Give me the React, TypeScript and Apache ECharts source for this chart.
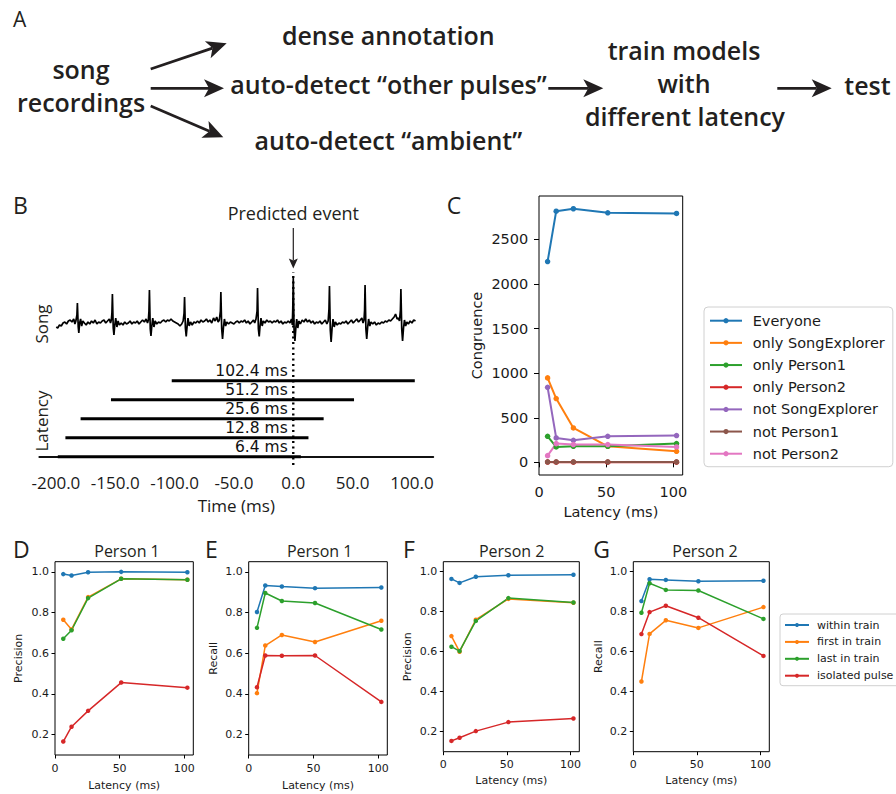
import React, { useEffect, useRef } from "react";
import * as echarts from "echarts";

// ---------------- data ----------------
const latencies = [6.4, 12.8, 25.6, 51.2, 102.4];
const windowMs = 204.8;
const timeTicks = [-200, -150, -100, -50, 0, 50, 100];

// song trace: [time (ms), amplitude (arbitrary units)]
const songTrace: [number, number][] = [
  [-199.7, -4], [-198.5, -5], [-197, -2], [-195.5, -3], [-194, 0], [-192.5, 1], [-191, -1], [-189.5, 2], [-188, 3], [-186.5, 1], [-185, 4], [-184, -1], [-183.2, 2],
  [-182.3, 8], [-181.9, 20], [-181.2, -4], [-180.7, -10], [-180, 0], [-179.2, 4], [-178.3, -3], [-177.3, 2],
  [-176, 0], [-174.5, -2], [-173, 1], [-171.5, -1], [-170, 2], [-168.5, 0], [-167, 3], [-165.5, -1], [-164, 1], [-162.5, 0], [-161, 2], [-159.5, 3], [-158, 0], [-156.5, 2], [-155, 4], [-154, 0], [-153.3, 3],
  [-152.8, 10], [-152.4, 29], [-151.7, -5], [-151.1, -12], [-150.4, -2], [-149.6, 5], [-148.6, -4], [-147.6, 2], [-146.5, -2], [-145, 0], [-143.5, -2], [-142, 1], [-140.5, -1], [-139, 0], [-137.5, 2], [-136, -1], [-134.5, 1], [-133, 0], [-131.5, 2], [-130, -1], [-128.5, 1], [-127, 3], [-125.5, 1], [-124, 4], [-122.8, 0], [-122.1, 3],
  [-121.6, 12], [-121.2, 33], [-120.5, -6], [-119.9, -13], [-119.2, -3], [-118.4, 5], [-117.4, -4], [-116.4, 2], [-115, -1], [-113.5, 1], [-112, 0], [-110.5, 2], [-109, 3], [-107.5, 1], [-106, 3], [-104.5, 2], [-103, 4], [-101.5, 2], [-100, 1], [-98.5, 0], [-97, -1], [-95.5, -3], [-94, -1], [-92.8, 2],
  [-92, 10], [-91.6, 26], [-90.9, -5], [-90.2, -13.5], [-89.5, -4], [-88.7, 5], [-87.7, -3], [-86.6, 1], [-85.2, -2], [-83.7, 1], [-82.2, 0], [-80.7, 2], [-79.2, 0], [-77.7, 3], [-76.2, 1], [-74.7, 2], [-73.2, 4], [-71.7, 1], [-70.2, 3], [-68.7, 0], [-67.2, 5], [-65.8, 2], [-64.5, 6], [-63.3, 1], [-62.3, 3],
  [-61.4, 12], [-61, 31], [-60.3, -6], [-59.6, -16], [-58.8, -4], [-58, 4], [-57, -3], [-56, 1], [-54.5, -1], [-53, 1], [-51.5, 0], [-50, -1], [-48.5, 1], [-47, 2], [-45.5, 0], [-44, 2], [-42.5, 1], [-41, 3], [-39.5, 0], [-38, 2], [-36.5, -1], [-35, 1], [-33.5, 3], [-32.5, 0], [-31.4, 4],
  [-30.5, 12], [-30.1, 35], [-29.4, -6], [-28.7, -13.5], [-28, -3], [-27.2, 5], [-26.2, -3], [-25.2, 2], [-23.8, 0], [-22.3, 3], [-20.8, 1], [-19.3, 2], [-17.8, 0], [-16.3, 2], [-14.8, 1], [-13.3, 3], [-11.8, 0], [-10.3, 2], [-8.8, -1], [-7.3, 1], [-5.8, 0], [-4.3, 2], [-2.8, 0], [-1.5, 4], [-0.8, -2],
  [-0.4, 15], [0, 45], [0.7, -8], [1.4, -18], [2.1, -6], [2.9, 4], [3.8, -5], [4.8, 2], [6, -1], [7.5, 3], [9, 1], [10.5, 4], [12, 1], [13.5, 3], [15, 0], [16.5, 2], [18, -1], [19.5, 1], [21, 0], [22.5, 2], [24, -1], [25.5, 1], [27, 3], [28.3, -1], [29.4, 2],
  [30.1, 14], [30.5, 37], [31.2, -7], [31.9, -19], [32.7, -5], [33.5, 4], [34.5, -4], [35.5, 1], [37, -2], [38.5, 0], [40, -1], [41.5, 1], [43, 0], [44.5, 2], [46, -1], [47.5, 1], [49, 3], [50.5, 0], [52, 2], [53.5, 4], [55, 1], [56.5, 3], [57.8, 5], [58.8, 0], [59.6, 3],
  [60.1, 13], [60.5, 38], [61.2, -6], [61.9, -16], [62.7, -4], [63.5, 4], [64.5, -3], [65.5, 1], [67, -1], [68.5, 1], [70, -2], [71.5, 0], [73, -1], [74.5, 1], [76, 0], [77.5, 2], [79, 1], [80.5, 3], [82, 2], [83.5, 4], [85, 6], [86.2, 9], [87.5, 4], [88.5, 5], [89.5, 2],
  [90.3, 13], [90.7, 34], [91.4, -6], [92.1, -18], [92.9, -5], [93.7, 3], [94.7, -3], [95.7, 1], [97, -1], [98.5, 2], [100, 0], [101.5, 3], [103, 2],
];

// Panel C: congruence
const congruenceNames = ["Everyone", "only SongExplorer", "only Person1", "only Person2", "not SongExplorer", "not Person1", "not Person2"];
const everyone = [2252, 2817, 2844, 2799, 2791];
const onlySongExplorer = [947, 715, 386, 180, 124];
const onlyPerson1 = [292, 173, 180, 180, 210];
const onlyPerson2 = [3, 2, 2, 2, 2];
const notSongExplorer = [842, 274, 247, 292, 300];
const notPerson1 = [5, 5, 5, 5, 5];
const notPerson2 = [75, 210, 199, 199, 173];
const congruenceTicks = [0, 500, 1000, 1500, 2000, 2500];

// Panels D-G
const pulseNames = ["within train", "first in train", "last in train", "isolated pulse"];
const precisionP1 = {
  within: [0.989, 0.982, 0.998, 1.0, 0.998],
  first: [0.765, 0.717, 0.876, 0.966, 0.961],
  last: [0.671, 0.713, 0.871, 0.966, 0.961],
  isolated: [0.166, 0.239, 0.317, 0.456, 0.431],
};
const recallP1 = {
  within: [0.803, 0.933, 0.928, 0.92, 0.923],
  first: [0.404, 0.638, 0.69, 0.655, 0.76],
  last: [0.725, 0.896, 0.857, 0.847, 0.717],
  isolated: [0.433, 0.589, 0.588, 0.589, 0.361],
};
const precisionP2 = {
  within: [0.964, 0.944, 0.975, 0.982, 0.985],
  first: [0.678, 0.6, 0.76, 0.864, 0.845],
  last: [0.625, 0.603, 0.754, 0.868, 0.846],
  isolated: [0.154, 0.17, 0.203, 0.248, 0.266],
};
const recallP2 = {
  within: [0.853, 0.962, 0.959, 0.952, 0.955],
  first: [0.451, 0.689, 0.757, 0.719, 0.823],
  last: [0.795, 0.942, 0.909, 0.906, 0.764],
  isolated: [0.688, 0.798, 0.83, 0.77, 0.579],
};
const scoreTicks = [0.2, 0.4, 0.6, 0.8, 1.0];
const latencyTicks = [0, 50, 100];

// ---------------- style ----------------
const TAB = ["#1f77b4", "#ff7f0e", "#2ca02c", "#d62728", "#9467bd", "#8c564b", "#e377c2"];
const MPL = "DejaVu Sans";
const ILL = "Open Sans";
const INK = "#231f20";
const TXT = "#1a1a1a";

function arrow(x1: number, y1: number, x2: number, y2: number, len = 20, half = 9, notch = 5, lw = 2.7) {
  const d = Math.hypot(x2 - x1, y2 - y1);
  const ux = (x2 - x1) / d, uy = (y2 - y1) / d;
  const nx = -uy, ny = ux;
  const bx = x2 - ux * len, by = y2 - uy * len;
  const mx = x2 - ux * (len - notch), my = y2 - uy * (len - notch);
  return [
    { type: "line", silent: true, shape: { x1, y1, x2: mx, y2: my }, style: { stroke: INK, lineWidth: lw } },
    {
      type: "polygon", silent: true,
      shape: { points: [[x2, y2], [bx + nx * half, by + ny * half], [mx, my], [bx - nx * half, by - ny * half]] },
      style: { fill: INK },
    },
  ];
}

function txt(text: string, x: number, y: number, size: number, o: any = {}) {
  return {
    type: "text", silent: true, x, y, rotation: o.rot || 0,
    style: {
      text, fontFamily: o.family || ILL, fontSize: size, fontWeight: o.weight || 400,
      fill: o.fill || INK, align: o.align || "center", verticalAlign: "middle",
    },
  };
}

function buildOption() {
  const grids: any[] = [];
  const xAxes: any[] = [];
  const yAxes: any[] = [];
  const series: any[] = [];

  // ---- B: song grid (0)
  grids.push({ left: 39.3, top: 273, width: 394, height: 75, outerBoundsMode: "none" });
  xAxes.push({ gridIndex: 0, type: "value", min: -214, max: 118, show: false });
  yAxes.push({ gridIndex: 0, type: "value", min: -25, max: 50, show: false });

  // ---- B: latency grid (1)
  grids.push({ left: 39.3, top: 265, width: 394, height: 200, outerBoundsMode: "none" });
  xAxes.push({
    gridIndex: 1, type: "value", min: -214, max: 118,
    axisLine: { show: true, lineStyle: { color: "#111", width: 1.8 } },
    axisTick: { show: false }, splitLine: { show: false },
    axisLabel: {
      customValues: timeTicks, formatter: (v: number) => v.toFixed(1),
      fontFamily: ILL, fontSize: 17, color: TXT, margin: 9,
    },
    name: "Time (ms)", nameLocation: "middle", nameGap: 40,
    nameTextStyle: { fontFamily: ILL, fontSize: 17, color: TXT, verticalAlign: "middle" },
  });
  yAxes.push({ gridIndex: 1, type: "value", min: -0.437, max: 10.09, show: false });

  series.push({
    type: "line", xAxisIndex: 1, yAxisIndex: 1, silent: true, symbol: "none",
    data: [[0, -0.437], [0, 9.72]],
    lineStyle: { color: "#000", width: 2.4, type: [2, 3.5] },
  });
  series.push({
    type: "line", xAxisIndex: 0, yAxisIndex: 0, silent: true, symbol: "none",
    data: songTrace, lineStyle: { color: "#000", width: 1.7 },
  });
  latencies.forEach((L, i) => {
    series.push({
      type: "line", xAxisIndex: 1, yAxisIndex: 1, silent: true, symbol: "none",
      data: [[L - windowMs, i], [L, i]], lineStyle: { color: "#000", width: 3 },
    });
  });
  series.push({
    type: "scatter", xAxisIndex: 1, yAxisIndex: 1, silent: true, symbolSize: 1,
    itemStyle: { color: "rgba(0,0,0,0)", opacity: 1 },
    data: latencies.map((_, i) => [0, i]),
    label: {
      show: true, position: "left", distance: 5, offset: [0, -10], opacity: 1,
      formatter: (p: any) => `${latencies[p.dataIndex]} ms`,
      fontFamily: MPL, fontSize: 15.5, lineHeight: 14, color: "#111",
    },
    z: 5,
  });

  // ---- C grid (2)
  grids.push({ left: 539, top: 196, width: 143.7, height: 279, show: true, borderColor: "#000", borderWidth: 1, backgroundColor: "transparent", outerBoundsMode: "none" });
  xAxes.push({
    gridIndex: 2, type: "value", min: 0, max: 107,
    axisLine: { show: false }, splitLine: { show: false },
    axisTick: { show: true, customValues: latencyTicks, length: 5, lineStyle: { color: "#000" } },
    axisLabel: { customValues: latencyTicks, formatter: (v: number) => String(v), fontFamily: MPL, fontSize: 14.5, color: TXT, margin: 9 },
    name: "Latency (ms)", nameLocation: "middle", nameGap: 37,
    nameTextStyle: { fontFamily: MPL, fontSize: 14.5, color: TXT, verticalAlign: "middle" },
  });
  yAxes.push({
    gridIndex: 2, type: "value", min: -142, max: 2987,
    axisLine: { show: false }, splitLine: { show: false },
    axisTick: { show: true, customValues: congruenceTicks, length: 5, lineStyle: { color: "#000" } },
    axisLabel: { customValues: congruenceTicks, formatter: (v: number) => String(v), fontFamily: MPL, fontSize: 14.5, color: TXT, margin: 10.7 },
    name: "Congruence", nameLocation: "middle", nameGap: 62,
    nameTextStyle: { fontFamily: MPL, fontSize: 14.5, color: TXT, verticalAlign: "middle" },
  });
  const cSeries = [everyone, onlySongExplorer, onlyPerson1, onlyPerson2, notSongExplorer, notPerson1, notPerson2];
  cSeries.forEach((vals, k) => {
    series.push({
      type: "line", name: congruenceNames[k], xAxisIndex: 2, yAxisIndex: 2,
      data: latencies.map((L, i) => [L, vals[i]]),
      symbol: "circle", symbolSize: 5.5, showSymbol: true,
      lineStyle: { color: TAB[k], width: 2 }, itemStyle: { color: TAB[k] },
    });
  });

  // ---- D-G grids (3..6)
  const panels = [
    { left: 55, top: 561.7, width: 138.3, height: 193.3, yName: "Precision", gapY: 36.7, gapX: 30, d: precisionP1 },
    { left: 248.7, top: 561.7, width: 138.6, height: 193.3, yName: "Recall", gapY: 35.4, gapX: 30, d: recallP1 },
    { left: 443.3, top: 561.7, width: 136, height: 190, yName: "Precision", gapY: 36, gapX: 28.3, d: precisionP2 },
    { left: 633.3, top: 561.7, width: 136, height: 190, yName: "Recall", gapY: 35, gapX: 28.3, d: recallP2 },
  ];
  panels.forEach((p, j) => {
    const gi = 3 + j;
    grids.push({ left: p.left, top: p.top, width: p.width, height: p.height, show: true, borderColor: "#000", borderWidth: 1, backgroundColor: "transparent", outerBoundsMode: "none" });
    xAxes.push({
      gridIndex: gi, type: "value", min: 0, max: 107,
      axisLine: { show: false }, splitLine: { show: false },
      axisTick: { show: true, customValues: latencyTicks, length: 3.5, lineStyle: { color: "#000" } },
      axisLabel: { customValues: latencyTicks, formatter: (v: number) => String(v), fontFamily: MPL, fontSize: 11, color: TXT, margin: 7.5 },
      name: "Latency (ms)", nameLocation: "middle", nameGap: p.gapX,
      nameTextStyle: { fontFamily: MPL, fontSize: 11, color: TXT, verticalAlign: "middle" },
    });
    yAxes.push({
      gridIndex: gi, type: "value", min: 0.1, max: 1.05,
      axisLine: { show: false }, splitLine: { show: false },
      axisTick: { show: true, customValues: scoreTicks, length: 3.5, lineStyle: { color: "#000" } },
      axisLabel: { customValues: scoreTicks, formatter: (v: number) => v.toFixed(1), fontFamily: MPL, fontSize: 11, color: TXT, margin: 6 },
      name: p.yName, nameLocation: "middle", nameGap: p.gapY,
      nameTextStyle: { fontFamily: MPL, fontSize: 11, color: TXT, verticalAlign: "middle" },
    });
    const sets = [p.d.within, p.d.first, p.d.last, p.d.isolated];
    sets.forEach((vals, k) => {
      series.push({
        type: "line", name: pulseNames[k], xAxisIndex: gi, yAxisIndex: gi,
        data: latencies.map((L, i) => [L, vals[i]]),
        symbol: "circle", symbolSize: 4.5, showSymbol: true,
        lineStyle: { color: TAB[k], width: 1.5 }, itemStyle: { color: TAB[k] },
      });
    });
  });

  // ---- graphics
  const g: any[] = [];
  // panel letters
  g.push(txt("A", 13, 18.8, 21, { align: "left" }));
  g.push(txt("B", 13, 204.5, 23, { align: "left" }));
  g.push(txt("C", 446.7, 204.5, 23, { align: "left" }));
  g.push(txt("D", 13, 548.5, 23, { align: "left" }));
  g.push(txt("E", 205, 548.5, 23, { align: "left" }));
  g.push(txt("F", 403, 548.5, 23, { align: "left" }));
  g.push(txt("G", 593.3, 548.5, 23, { align: "left" }));

  // panel A
  const bold = { weight: 600 };
  g.push(txt("song", 81, 69.3, 25, bold));
  g.push(txt("recordings", 81, 102, 25, bold));
  g.push(txt("dense annotation", 388.3, 35.3, 25, bold));
  g.push(txt("auto-detect \u201Cother pulses\u201D", 388.5, 83.6, 25, bold));
  g.push(txt("auto-detect \u201Cambient\u201D", 388.3, 140.3, 25, bold));
  g.push(txt("train models", 684, 49.6, 25, bold));
  g.push(txt("with", 684, 83, 25, bold));
  g.push(txt("different latency", 685, 116.3, 25, bold));
  g.push(txt("test", 867.5, 85.3, 25, bold));
  g.push(...arrow(150.7, 69, 226.7, 43.3));
  g.push(...arrow(150.7, 88.3, 224, 88.3));
  g.push(...arrow(150.7, 106, 223.3, 137.3));
  g.push(...arrow(548.3, 88.3, 603.3, 88.3));
  g.push(...arrow(777.3, 88.3, 831.7, 88.3));

  // panel B annotations
  g.push(txt("Predicted event", 293.3, 213, 18));
  g.push(...arrow(293.3, 228, 293.3, 268.5, 10, 4.5, 2, 1.2));
  g.push(txt("Song", 41, 324, 17, { rot: Math.PI / 2 }));
  g.push(txt("Latency", 41, 421, 17, { rot: Math.PI / 2 }));

  // D-G titles
  g.push(txt("Person 1", 127, 550.5, 16));
  g.push(txt("Person 1", 319.7, 550.5, 16));
  g.push(txt("Person 2", 511.7, 550.5, 16));
  g.push(txt("Person 2", 705, 550.5, 16));

  return {
    animation: false,
    backgroundColor: "#fff",
    grid: grids,
    xAxis: xAxes,
    yAxis: yAxes,
    legend: [
      {
        data: congruenceNames, orient: "vertical", left: 704, top: 307,
        itemWidth: 32, itemHeight: 6.5, itemGap: 6.17, selectedMode: false,
        padding: [5.7, 8, 5, 5],
        borderColor: "#d0d0d0", borderWidth: 1, borderRadius: 4, backgroundColor: "#fff",
        textStyle: { fontFamily: MPL, fontSize: 14.5, lineHeight: 16, color: TXT, padding: [0, 0, 0, 5.7] },
      },
      {
        data: pulseNames, orient: "vertical", left: 780, top: 614,
        itemWidth: 24, itemHeight: 5, itemGap: 4.9, selectedMode: false,
        padding: [5, 8, 4, 4],
        borderColor: "#d0d0d0", borderWidth: 1, borderRadius: 3, backgroundColor: "#fff",
        textStyle: { fontFamily: MPL, fontSize: 11, lineHeight: 12, color: TXT, padding: [0, 0, 0, 3] },
      },
    ],
    series,
    graphic: g,
  };
}

export default function App() {
  const ref = useRef<HTMLDivElement>(null);
  useEffect(() => {
    document.body.style.margin = "0";
    const chart = echarts.init(ref.current!, null, { renderer: "svg" });
    chart.setOption(buildOption() as any);
    return () => chart.dispose();
  }, []);
  return <div ref={ref} style={{ width: 896, height: 794 }} />;
}
